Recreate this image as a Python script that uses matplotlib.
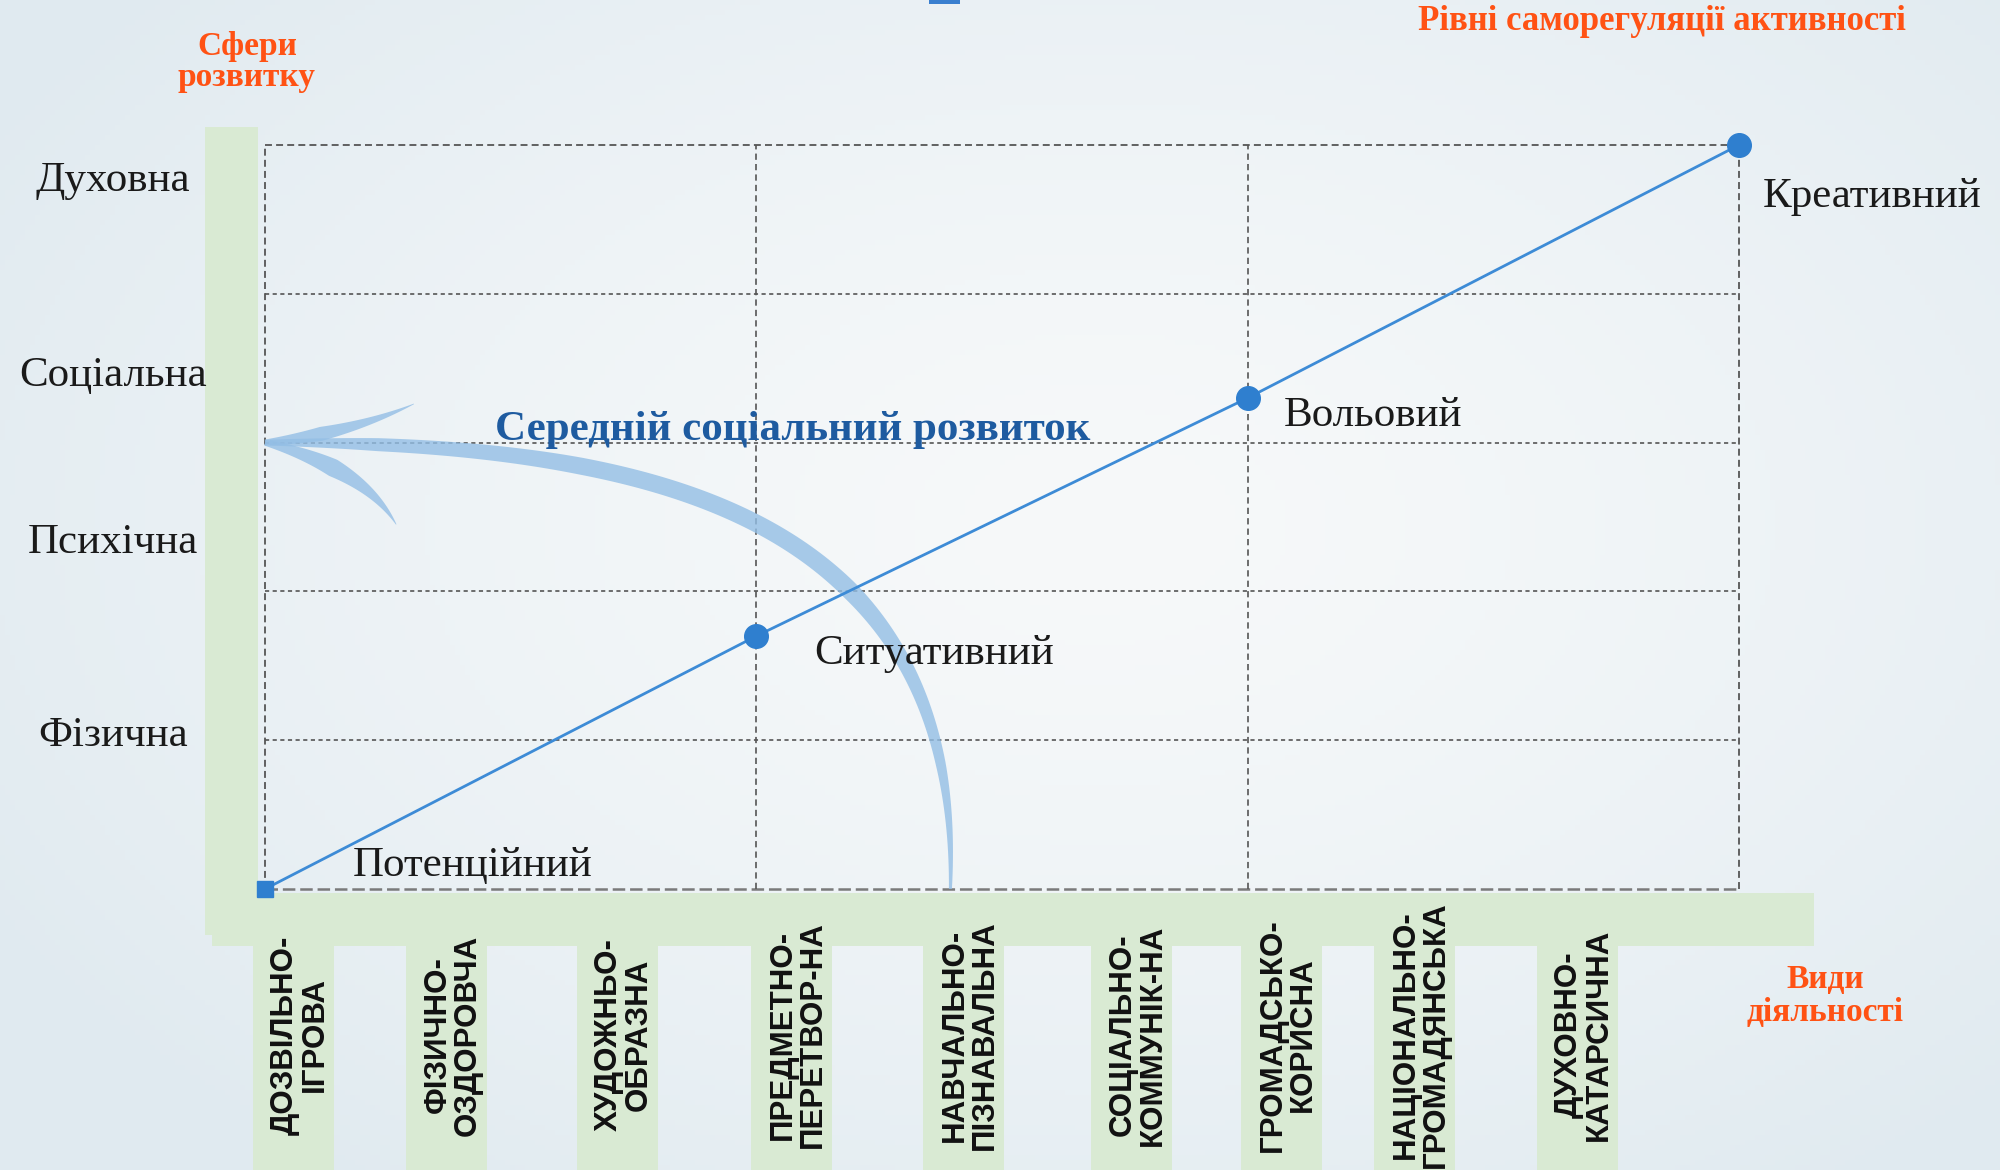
import numpy as np
import matplotlib as mpl
import matplotlib.pyplot as plt
from matplotlib.patches import Rectangle, Polygon
from matplotlib.transforms import blended_transform_factory

mpl.rcParams['lines.scale_dashes'] = False

# рівні саморегуляції активності: крок по горизонталі, висота розвитку
levels = ["Потенційний", "Ситуативний", "Вольовий", "Креативний"]
level_x = [0, 1, 2, 3]
level_y = [0.0, 1.7, 3.3, 5.0]

# сфери розвитку і їх висота на осі
spheres = ["Духовна", "Соціальна", "Психічна", "Фізична"]
sphere_y = [4.76, 3.45, 2.33, 1.03]

# види діяльності
activities = ["ДОЗВІЛЬНО-\nІГРОВА", "ФІЗИЧНО-\nОЗДОРОВЧА", "ХУДОЖНЬО-\nОБРАЗНА",
              "ПРЕДМЕТНО-\nПЕРЕТВОР-НА", "НАВЧАЛЬНО-\nПІЗНАВАЛЬНА",
              "СОЦІАЛЬНО-\nКОММУНІК-НА", "ГРОМАДСЬКО-\nКОРИСНА",
              "НАЦІОНАЛЬНО-\nГРОМАДЯНСЬКА", "ДУХОВНО-\nКАТАРСИЧНА"]

avg_level = 3.0
avg_label = "Середній соціальний розвиток"

W, H = 2000, 1170
green = '#d9ead3'
orange = '#ff5214'
blue = '#3d8bd6'
serif = 'Liberation Serif'
sans = 'Liberation Sans'

fig = plt.figure(figsize=(20, 11.7), dpi=100)

# фон у пікселях
bg = fig.add_axes([0, 0, 1, 1])
bg.set_xlim(0, W)
bg.set_ylim(H, 0)
bg.axis('off')

gx, gy = np.meshgrid(np.linspace(0, 1, 400), np.linspace(0, 1, 234))
r = np.clip(np.sqrt(((gx - 0.55) / 0.65) ** 2 + ((gy - 0.45) / 0.7) ** 2), 0, 1)
c0 = np.array([247, 249, 250]) / 255
c1 = np.array([224, 234, 240]) / 255
img = c0 + (c1 - c0) * r[..., None] ** 1.4
bg.imshow(img, extent=(0, W, H, 0), aspect='auto', zorder=0)

bg.add_patch(Rectangle((205, 127), 53, 808, color=green, lw=0, zorder=1))
bg.add_patch(Rectangle((212, 893), 1602, 53, color=green, lw=0, zorder=1))
bg.add_patch(Rectangle((929, 0), 31, 4, color='#3a7fcf', lw=0, zorder=1))

act_x = [293, 446, 617, 791, 963, 1131, 1281, 1414, 1577]
for name, cx in zip(activities, act_x):
    bg.add_patch(Rectangle((cx - 40.5, 946), 81, 230, color=green, lw=0, zorder=1))
    bg.text(cx + 7, 1035, name, rotation=90, ha='center', va='center',
            multialignment='center', linespacing=1.0, fontsize=22.5,
            fontweight='bold', family=sans, color='#111111', zorder=3)

bg.text(247, 62, "Сфери\nрозвитку", ha='center', va='center', fontsize=24,
        fontweight='bold', color=orange, family=serif, linespacing=1.0, zorder=3)
bg.text(1662, 22, "Рівні саморегуляції активності", ha='center', va='center',
        fontsize=25, fontweight='bold', color=orange, family=serif, zorder=3)
bg.text(1825, 996, "Види\nдіяльності", ha='center', va='center', fontsize=24,
        fontweight='bold', color=orange, family=serif, linespacing=1.05, zorder=3)

# основна сітка
ax = fig.add_axes([265 / W, (H - 889) / H, (1739 - 265) / W, (889 - 145) / H])
ax.set_xlim(0, 3)
ax.set_ylim(0, 5)
ax.axis('off')
ax.patch.set_visible(False)

for y in range(1, 5):
    ax.axhline(y, color='#555555', lw=1.2, dashes=(3, 2.5), clip_on=False, zorder=1)
ax.axhline(5, color='#555555', lw=1.3, dashes=(5, 3), clip_on=False, zorder=1)
ax.axhline(0, color='#7a7a7a', lw=1.8, dashes=(9, 3.5), clip_on=False, zorder=1)
for x in (1, 2):
    ax.axvline(x, color='#555555', lw=1.2, dashes=(4.5, 3), clip_on=False, zorder=1)
for x in (0, 3):
    ax.axvline(x, color='#555555', lw=1.3, dashes=(5, 3), clip_on=False, zorder=1)


def bez(p, t):
    p = [np.array(q, float) for q in p]
    t = t[:, None]
    if len(p) == 3:
        return (1 - t) ** 2 * p[0] + 2 * (1 - t) * t * p[1] + t ** 2 * p[2]
    return ((1 - t) ** 3 * p[0] + 3 * (1 - t) ** 2 * t * p[1]
            + 3 * (1 - t) * t ** 2 * p[2] + t ** 3 * p[3])


def tapered(pts, half_w, **kw):
    pix = ax.transData.transform(pts)
    d = np.gradient(pix, axis=0)
    n = np.column_stack([-d[:, 1], d[:, 0]])
    n /= np.linalg.norm(n, axis=1)[:, None]
    outline = np.vstack([pix + n * half_w[:, None], (pix - n * half_w[:, None])[::-1]])
    ax.add_patch(Polygon(ax.transData.inverted().transform(outline), closed=True,
                         clip_on=False, **kw))


# вигнута стрілка до середнього рівня
t = np.linspace(0, 1, 150)
arrow_kw = dict(facecolor='#93bee5', edgecolor='none', alpha=0.8, zorder=2)
shaft = bez([(1.395, 0.0), (1.42, 2.6), (0.75, avg_level), (0.01, avg_level)], t)
tapered(shaft, np.interp(t, [0, 0.12, 0.35, 0.7, 0.9, 1.0], [1.5, 5, 9, 8.5, 6.5, 3]), **arrow_kw)
upper = bez([(0.0, avg_level), (0.17, 3.06), (0.303, 3.26)], t)
tapered(upper, np.interp(t, [0, 0.35, 1.0], [3, 7, 0.3]), **arrow_kw)
lower = bez([(0.0, avg_level), (0.2, 2.83), (0.267, 2.45)], t)
tapered(lower, np.interp(t, [0, 0.4, 1.0], [3, 9, 0.3]), **arrow_kw)

ax.text(1.073, 3.085, avg_label, ha='center', va='center', fontsize=31,
        fontweight='bold', color='#1e5ba0', family=serif, zorder=4)

# лінія рівнів
ax.plot(level_x, level_y, color=blue, lw=2, zorder=3, clip_on=False)
ax.plot(level_x[1:], level_y[1:], 'o', color='#2f7fcf', ms=17, zorder=4, clip_on=False)
ax.plot(level_x[:1], level_y[:1], 's', color='#2f7fcf', ms=12, zorder=4, clip_on=False)

offsets = [(88, 23), (58, -18), (36, -18), (24, -52)]
for name, x, y, off in zip(levels, level_x, level_y, offsets):
    ax.annotate(name, (x, y), xytext=off, textcoords='offset pixels', ha='left',
                va='center', fontsize=31, family=serif, color='#1a1a1a', zorder=5)

tr = blended_transform_factory(bg.transData, ax.transData)
for name, y in zip(spheres, sphere_y):
    ax.text(113, y, name, transform=tr, ha='center', va='center', fontsize=31,
            family=serif, color='#1a1a1a', clip_on=False)

fig.savefig('out.png', dpi=100)
